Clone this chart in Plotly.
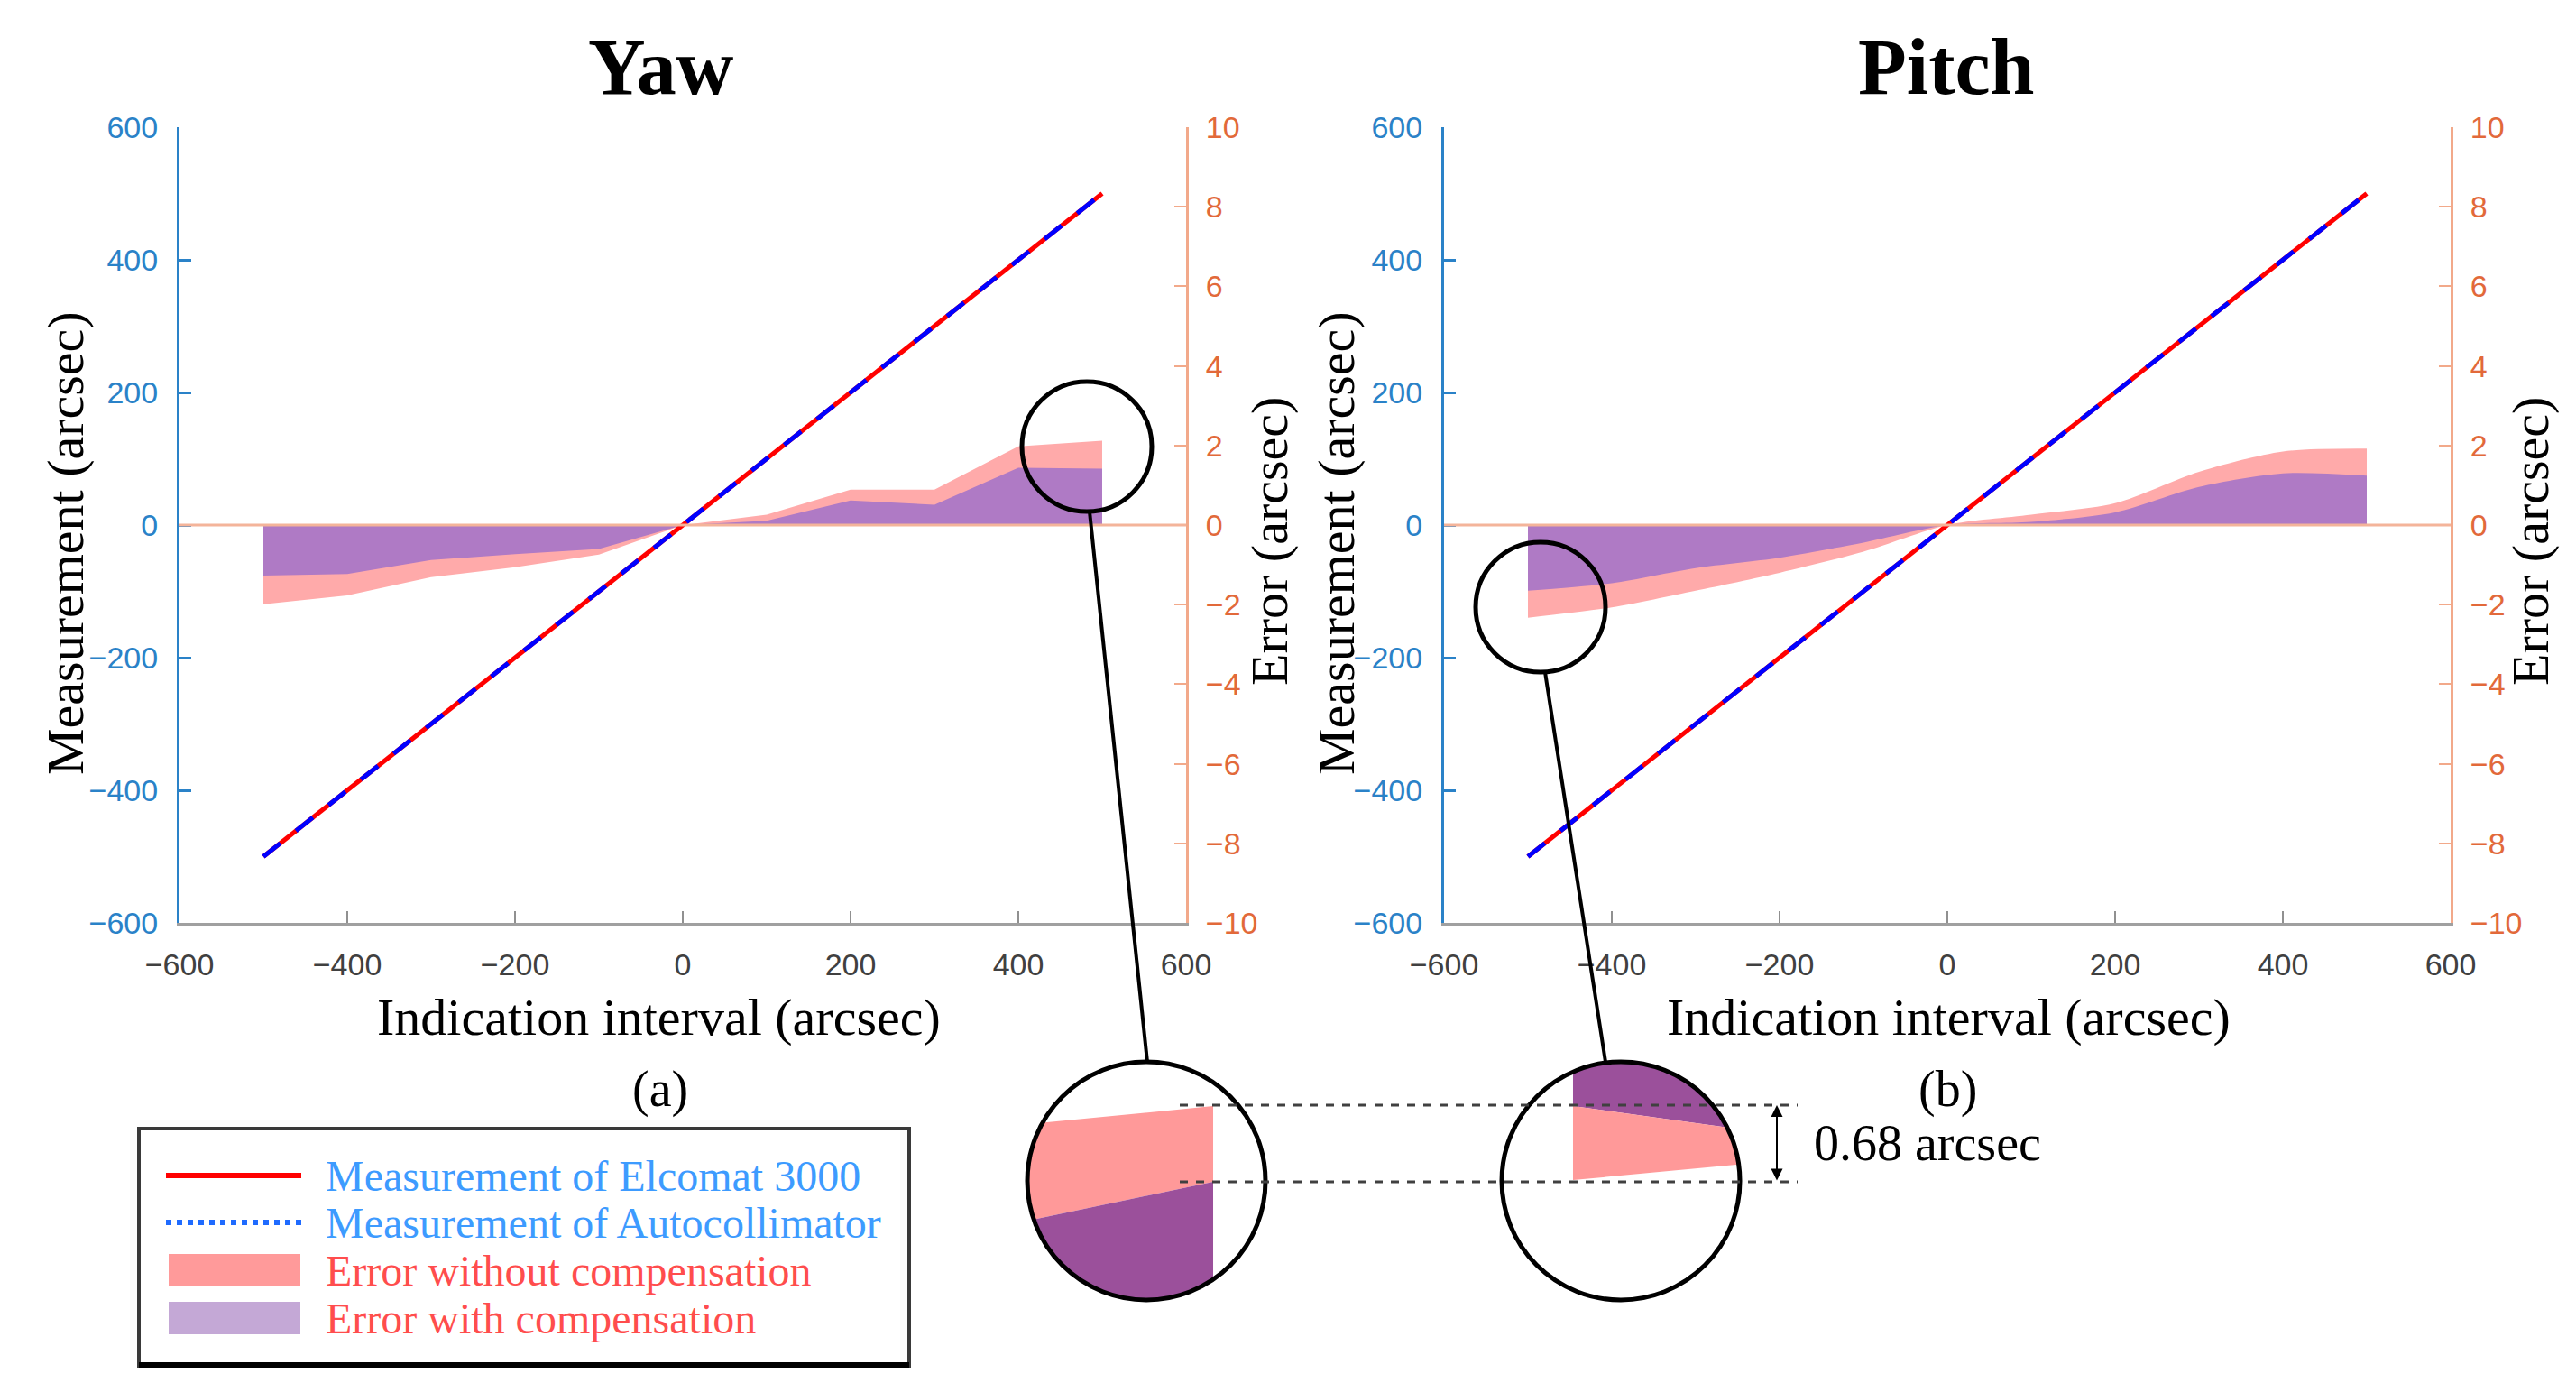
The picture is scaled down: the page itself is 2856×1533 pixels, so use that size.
import numpy as np
import plotly.graph_objects as go

# ---------------- data ----------------
indication = [-500, -400, -300, -200, -100, 0, 100, 200, 300, 400, 500]
elcomat = [-500, -400, -300, -200, -100, 0, 100, 200, 300, 400, 500]
autocollimator = [-500, -400, -300, -200, -100, 0, 100, 200, 300, 400, 500]

yaw_err_without = [-1.99, -1.77, -1.31, -1.06, -0.74, 0.0, 0.26, 0.89, 0.89, 1.98, 2.12]
yaw_err_with = [-1.27, -1.23, -0.88, -0.73, -0.60, 0.0, 0.11, 0.62, 0.51, 1.44, 1.42]

pitch_err_without = [-2.33, -2.07, -1.65, -1.20, -0.67, 0.0, 0.26, 0.55, 1.34, 1.85, 1.92]
pitch_err_with = [-1.65, -1.46, -1.08, -0.82, -0.44, 0.0, 0.08, 0.32, 0.96, 1.30, 1.24]

x_ticks = [-600, -400, -200, 0, 200, 400, 600]
meas_ticks = [-600, -400, -200, 0, 200, 400, 600]
err_ticks = [-10, -8, -6, -4, -2, 0, 2, 4, 6, 8, 10]

legend_labels = ["Measurement of Elcomat 3000", "Measurement of Autocollimator",
                 "Error without compensation", "Error with compensation"]

# ---------------- styling ----------------
W, H = 2856, 1533
SERIF = "Liberation Serif, Times New Roman, serif"
SANS = "Liberation Sans, Arial, sans-serif"
RED = "#FF0000"
BLUE = "#0000FF"
PINK = "#FFAAAA"
PURPLE = "#AF7AC5"
AX_BLUE = "#2A82C8"
AX_ORANGE_LINE = "#F2A98A"
AX_ORANGE_TXT = "#E2693A"


def px(x):
    return x / W


def py(y):
    return 1 - y / H


ydom = [py(1015), py(133)]
yaw_xdom = [px(191), px(1307)]
pitch_xdom = [px(1593), px(2709)]

fig = go.Figure()


def add_panel(xa, ymain, ymeas, e_without, e_with, shape):
    fig.add_trace(go.Scatter(x=indication, y=e_without, xaxis=xa, yaxis=ymain,
                             mode="lines", line=dict(width=0, shape=shape, smoothing=0.8),
                             fill="tozeroy", fillcolor=PINK, showlegend=False,
                             name=legend_labels[2]))
    fig.add_trace(go.Scatter(x=indication, y=e_with, xaxis=xa, yaxis=ymain,
                             mode="lines", line=dict(width=0, shape=shape, smoothing=0.8),
                             fill="tozeroy", fillcolor=PURPLE, showlegend=False,
                             name=legend_labels[3]))
    fig.add_trace(go.Scatter(x=indication, y=elcomat, xaxis=xa, yaxis=ymeas,
                             mode="lines", line=dict(color=RED, width=5),
                             showlegend=False, name=legend_labels[0]))
    fig.add_trace(go.Scatter(x=indication, y=autocollimator, xaxis=xa, yaxis=ymeas,
                             mode="lines", line=dict(color=BLUE, width=5, dash="24px,22px"),
                             showlegend=False, name=legend_labels[1]))


add_panel("x", "y", "y2", yaw_err_without, yaw_err_with, "linear")
add_panel("x2", "y3", "y4", pitch_err_without, pitch_err_with, "spline")

xcommon = dict(range=[-600, 600], tickvals=x_ticks, ticks="inside", ticklen=13, tickwidth=2,
               tickcolor="#909090", showline=True, linecolor="#A0A0A0", linewidth=3,
               showgrid=False, zeroline=False, ticklabelstandoff=14, automargin=False,
               tickfont=dict(family=SANS, size=34, color="#404040"))
errcommon = dict(range=[-10, 10], tickvals=err_ticks, side="right", ticks="inside",
                 ticklen=13, tickwidth=2, tickcolor=AX_ORANGE_LINE, showline=True,
                 linecolor=AX_ORANGE_LINE, linewidth=3, showgrid=False, zeroline=False,
                 domain=ydom, ticklabelstandoff=12, automargin=False,
                 tickfont=dict(family=SANS, size=34, color=AX_ORANGE_TXT))
meascommon = dict(range=[-600, 600], tickvals=meas_ticks, side="left", ticks="inside",
                  ticklen=13, tickwidth=3, tickcolor=AX_BLUE, showline=True,
                  linecolor=AX_BLUE, linewidth=3, showgrid=False, zeroline=False,
                  ticklabelstandoff=14, automargin=False,
                  tickfont=dict(family=SANS, size=34, color=AX_BLUE))

fig.update_layout(
    width=W, height=H, autosize=False,
    margin=dict(l=0, r=0, t=0, b=0, pad=0, autoexpand=False),
    paper_bgcolor="white", plot_bgcolor="white",
    xaxis=dict(domain=yaw_xdom, anchor="y", **xcommon),
    xaxis2=dict(domain=pitch_xdom, anchor="y3", **xcommon),
    yaxis=dict(anchor="x", **errcommon),
    yaxis2=dict(anchor="x", overlaying="y", **meascommon),
    yaxis3=dict(anchor="x2", **errcommon),
    yaxis4=dict(anchor="x2", overlaying="y3", **meascommon),
)

shapes = []
annotations = []

# zero baseline of the error axis
for xr, yr in [("x domain", "y"), ("x2 domain", "y3")]:
    shapes.append(dict(type="line", xref=xr, yref=yr, x0=0, x1=1, y0=0, y1=0,
                       line=dict(color="#F4B49A", width=3), layer="above"))


def text(x, y, s, size, color="black", bold=False, angle=0, xanchor="center", family=SERIF):
    if bold:
        s = "<b>" + s + "</b>"
    annotations.append(dict(x=px(x), y=py(y), xref="paper", yref="paper", text=s,
                            showarrow=False, textangle=angle, xanchor=xanchor,
                            yanchor="middle", font=dict(family=family, size=size, color=color)))


# titles and axis titles
text(725, 66, "Yaw", 88, bold=True)
text(2150, 66, "Pitch", 88, bold=True)
text(722, 1119, "Indication interval (arcsec)", 58)
text(2152, 1119, "Indication interval (arcsec)", 58)
text(64, 594, "Measurement (arcsec)", 58, angle=-90)
text(1473, 594, "Measurement (arcsec)", 58, angle=-90)
text(1399, 592, "Error (arcsec)", 58, angle=-90)
text(2797, 592, "Error (arcsec)", 58, angle=-90)
text(724, 1199, "(a)", 56)
text(2151, 1199, "(b)", 56)
text(2001, 1259, "0.68 arcsec", 56, xanchor="left")


# ---------------- zoom insets ----------------
def circle_poly(cx, cy, r, n=240):
    t = np.linspace(0, 2 * np.pi, n, endpoint=False)
    return [(cx + r * np.cos(a), cy + r * np.sin(a)) for a in t]


def clip(poly, f):
    out = []
    n = len(poly)
    for i in range(n):
        P = poly[i]
        Q = poly[(i + 1) % n]
        fp, fq = f(P), f(Q)
        if fp >= 0:
            out.append(P)
        if (fp >= 0) != (fq >= 0):
            t = fp / (fp - fq)
            out.append((P[0] + t * (Q[0] - P[0]), P[1] + t * (Q[1] - P[1])))
    return out


def below(p1, p2):
    return lambda p: p[1] - (p1[1] + (p[0] - p1[0]) * (p2[1] - p1[1]) / (p2[0] - p1[0]))


def above(p1, p2):
    g = below(p1, p2)
    return lambda p: -g(p)


def path_of(poly):
    pts = " L ".join(f"{px(x):.5f},{py(y):.5f}" for x, y in poly)
    return "M " + pts + " Z"


def region(cx, cy, r, funcs, color):
    poly = circle_poly(cx, cy, r)
    for f in funcs:
        poly = clip(poly, f)
    if len(poly) > 2:
        shapes.append(dict(type="path", xref="paper", yref="paper", path=path_of(poly),
                           fillcolor=color, line=dict(width=0), layer="above"))


INS_PINK = "#FF9999"
INS_PURPLE = "#9B509B"

# inset 1 (yaw)
c1 = (1263, 1301, 132)
top1 = ((1154, 1236), (1337, 1218))
bnd1 = ((1142, 1343), (1337, 1302))
region(*c1, [lambda p: 1337 - p[0], below(*top1), above(*bnd1)], INS_PINK)
region(*c1, [lambda p: 1337 - p[0], below(*bnd1)], INS_PURPLE)

# inset 2 (pitch)
c2 = (1789, 1301, 132)
bnd2 = ((1736, 1218), (1901, 1241))
bot2 = ((1736, 1300), (1918, 1283))
region(*c2, [lambda p: p[0] - 1736, above(*bnd2)], INS_PURPLE)
region(*c2, [lambda p: p[0] - 1736, below(*bnd2), above(*bot2)], INS_PINK)


def circle(cx, cy, r, w=5):
    shapes.append(dict(type="circle", xref="paper", yref="paper",
                       x0=px(cx - r), x1=px(cx + r), y0=py(cy + r), y1=py(cy - r),
                       line=dict(color="black", width=w), layer="above"))


def seg(x0, y0, x1, y1, color="black", width=4, dash=None):
    ln = dict(color=color, width=width)
    if dash:
        ln["dash"] = dash
    shapes.append(dict(type="line", xref="paper", yref="paper", x0=px(x0), y0=py(y0),
                       x1=px(x1), y1=py(y1), line=ln, layer="above"))


circle(1197, 487, 72)
circle(1700, 665, 72)
circle(*c1)
circle(*c2)
seg(1200, 559, 1264, 1169)
seg(1705, 737, 1772, 1169)
seg(1300, 1217, 1985, 1217, color="#404040", width=3, dash="dash")
seg(1300, 1302, 1985, 1302, color="#404040", width=3, dash="dash")

# double-headed arrow
annotations.append(dict(x=px(1962), y=py(1217), xref="paper", yref="paper", text="",
                        showarrow=True, ax=0, ay=85, axref="pixel", ayref="pixel",
                        arrowhead=2, arrowside="end+start", arrowsize=1.3, arrowwidth=2,
                        arrowcolor="black", standoff=0, startstandoff=0))

# ---------------- legend box ----------------
shapes.append(dict(type="rect", xref="paper", yref="paper", x0=px(146), x1=px(1000),
                   y0=py(1506), y1=py(1243), line=dict(color="#3A3A3A", width=4),
                   fillcolor="white", layer="above"))
seg(146, 1505, 1000, 1505, color="black", width=6)
seg(176, 1295, 326, 1295, color=RED, width=6)
seg(176, 1347, 326, 1347, color="#1F6BFF", width=6, dash="dot")
shapes.append(dict(type="rect", xref="paper", yref="paper", x0=px(179), x1=px(325),
                   y0=py(1418), y1=py(1382), fillcolor="#FF9A9A", line=dict(width=0),
                   layer="above"))
shapes.append(dict(type="rect", xref="paper", yref="paper", x0=px(179), x1=px(325),
                   y0=py(1471), y1=py(1435), fillcolor="#C4A8D6", line=dict(width=0),
                   layer="above"))
leg_colors = ["#3D9BFF", "#3D9BFF", "#FF4D4D", "#FF4D4D"]
leg_y = [1295, 1347, 1400, 1453]
for lab, col, yy in zip(legend_labels, leg_colors, leg_y):
    text(351, yy, lab, 48, color=col, xanchor="left")

fig.update_layout(shapes=shapes, annotations=annotations)
fig.write_html("out.html")
